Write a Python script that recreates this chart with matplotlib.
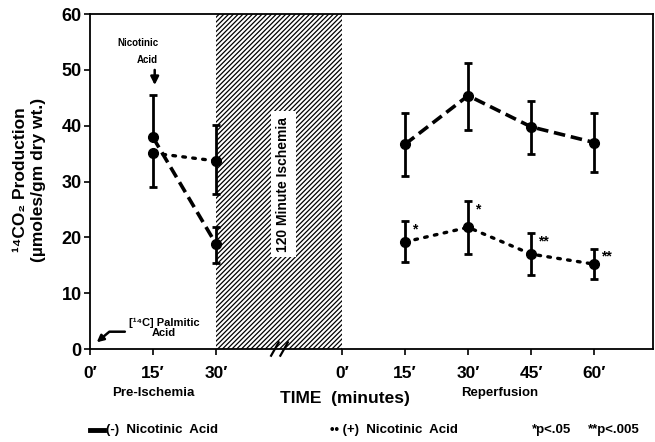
import numpy as np
import matplotlib
matplotlib.use("Agg")
import matplotlib.pyplot as plt
from matplotlib.lines import Line2D

plt.rcParams["font.family"] = ["Liberation Sans", "DejaVu Sans"]
plt.rcParams["font.weight"] = "bold"
plt.rcParams["hatch.linewidth"] = 0.9

# positions on a common time axis (pre-ischemia 0-30, reperfusion 60-120)
tick_pos = [0, 15, 30, 60, 75, 90, 105, 120]
tick_labels = ["0\u2032", "15\u2032", "30\u2032", "0\u2032", "15\u2032", "30\u2032", "45\u2032", "60\u2032"]

# (-) nicotinic acid
minus_pre_x = [15, 30]
minus_pre_y = [37.9, 18.8]
minus_pre_lo = [0.0, 3.4]
minus_pre_hi = [7.6, 3.0]
minus_rep_x = [75, 90, 105, 120]
minus_rep_y = [36.7, 45.4, 39.8, 37.0]
minus_rep_lo = [5.7, 6.2, 4.9, 5.3]
minus_rep_hi = [5.5, 5.9, 4.7, 5.2]

# (+) nicotinic acid
plus_pre_x = [15, 30]
plus_pre_y = [35.1, 33.7]
plus_pre_lo = [6.1, 6.0]
plus_pre_hi = [0.0, 6.4]
plus_rep_x = [75, 90, 105, 120]
plus_rep_y = [19.2, 21.8, 17.0, 15.2]
plus_rep_lo = [3.6, 4.8, 3.7, 2.7]
plus_rep_hi = [3.8, 4.7, 3.7, 2.8]
plus_stars = ["*", "*", "**", "**"]

fig = plt.figure(figsize=(6.55, 4.42), dpi=100)
ax = fig.add_axes([0.1374, 0.2104, 0.8596, 0.7576])

ax.axvspan(30, 60, facecolor="white", edgecolor="black", hatch="///////", linewidth=0, zorder=0)
ax.text(46, 29.5, "120 Minute Ischemia", rotation=90, ha="center", va="center", fontsize=10,
        bbox=dict(facecolor="white", edgecolor="none", pad=4))

dash = dict(color="black", linestyle=(0, (3.2, 1.6)), linewidth=2.6)
dots = dict(color="black", linestyle=(0, (0.8, 2.2)), linewidth=2.4, dash_capstyle="round")
eb = dict(fmt="none", ecolor="black", elinewidth=2, capsize=3, capthick=2)

for xs, ys, lo, hi in [(minus_pre_x, minus_pre_y, minus_pre_lo, minus_pre_hi),
                       (minus_rep_x, minus_rep_y, minus_rep_lo, minus_rep_hi)]:
    ax.plot(xs, ys, **dash)
    ax.plot(xs, ys, "o", color="black", markersize=7)
    ax.errorbar(xs, ys, yerr=[lo, hi], **eb)

for xs, ys, lo, hi in [(plus_pre_x, plus_pre_y, plus_pre_lo, plus_pre_hi),
                       (plus_rep_x, plus_rep_y, plus_rep_lo, plus_rep_hi)]:
    ax.plot(xs, ys, **dots)
    ax.plot(xs, ys, "o", color="black", markersize=7)
    ax.errorbar(xs, ys, yerr=[lo, hi], **eb)

# significance stars next to the upper caps
for i, (x, y, hi) in enumerate(zip(plus_rep_x, plus_rep_y, plus_rep_hi)):
    ax.annotate(plus_stars[i], (x, y + hi), xytext=(5, -6), textcoords="offset points",
                fontsize=10, ha="left", va="center")

ax.annotate("", xy=(15.4, 46.8), xytext=(15.4, 50.5),
            arrowprops=dict(arrowstyle="-|>", color="black", lw=1.8, mutation_scale=12))
ax.text(16.2, 53.3, "Nicotinic\nAcid", ha="right", va="center", fontsize=7, multialignment="right",
        linespacing=1.9)
ax.text(17.6, 3.7, "[\u00b9\u2074C] Palmitic\nAcid", ha="center", va="center", fontsize=8, linespacing=1.0)
ax.annotate("", xy=(1.6, 1.2), xytext=(8.3, 3.1),
            arrowprops=dict(arrowstyle="-|>", color="black", lw=1.8, mutation_scale=10,
                            connectionstyle="angle,angleA=0,angleB=40,rad=0", shrinkA=0, shrinkB=0))

# axis break marks
for bx in [44.0, 46.2]:
    ax.plot([bx - 0.9, bx + 0.9], [-1.2, 1.2], color="black", lw=1.6, clip_on=False)

ax.set_xlim(0, 134)
ax.set_ylim(0, 60)
ax.set_xticks(tick_pos)
ax.set_xticklabels(tick_labels, fontsize=12.5)
ax.set_yticks(np.arange(0, 61, 10))
ax.tick_params(axis="y", labelsize=13, length=4, width=1.2, direction="out", pad=2)
ax.tick_params(axis="x", length=4, width=1.2, direction="out", pad=8)
for s in ax.spines.values():
    s.set_linewidth(1.3)

fig.text(0.045, 0.593, "\u00b9\u2074CO\u2082 Production\n(\u00b5moles/gm dry wt.)", rotation=90,
         ha="center", va="center", fontsize=12.5, linespacing=1.25)

fig.text(153 / 655, 1 - 393 / 442, "Pre-Ischemia", ha="center", va="center", fontsize=9.5)
fig.text(345 / 655, 1 - 398 / 442, "TIME  (minutes)", ha="center", va="center", fontsize=12.5)
fig.text(500 / 655, 1 - 393 / 442, "Reperfusion", ha="center", va="center", fontsize=9.5)

ly = 1 - 430 / 442
fig.add_artist(Line2D([90 / 655, 104 / 655], [ly, ly], color="black", lw=3.5))
fig.text(106 / 655, ly, "(-)  Nicotinic  Acid", ha="left", va="center", fontsize=9.5)
fig.text(330 / 655, ly, "\u2022\u2022 (+)  Nicotinic  Acid", ha="left", va="center", fontsize=9.5)
fig.text(532 / 655, ly, "*p<.05", ha="left", va="center", fontsize=9.5)
fig.text(588 / 655, ly, "**p<.005", ha="left", va="center", fontsize=9.5)

fig.savefig("out.png", dpi=100)
